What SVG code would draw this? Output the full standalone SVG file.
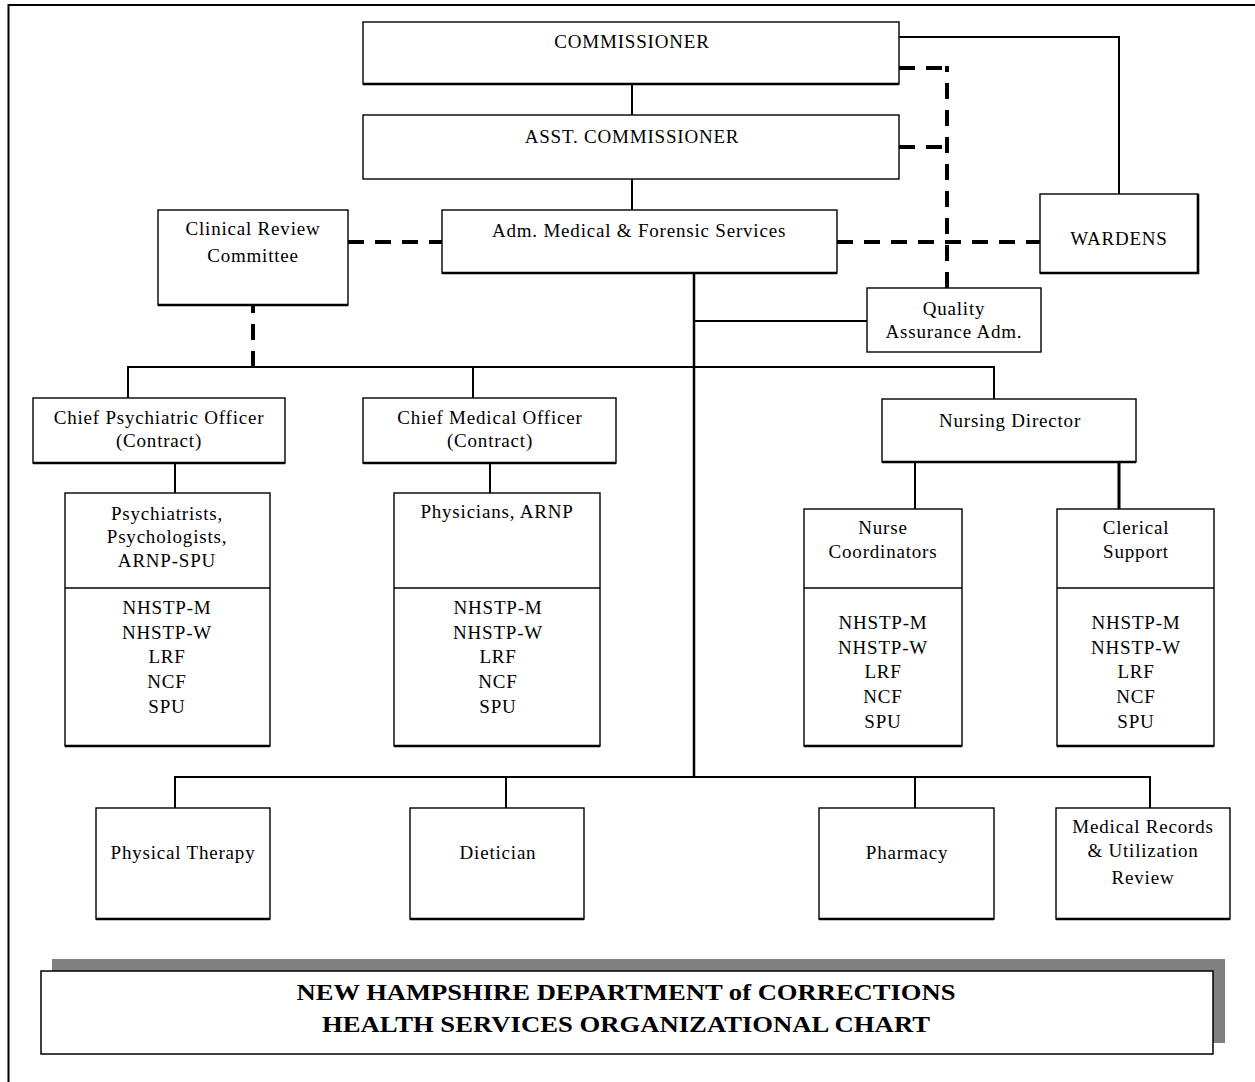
<svg xmlns="http://www.w3.org/2000/svg" width="1255" height="1082" viewBox="0 0 1255 1082">
<style>
.bx{fill:#fff;stroke:#000;stroke-width:1.4}
.sh{stroke:#000;stroke-width:2.6;fill:none}
.ln{stroke:#000;stroke-width:2;fill:none}
.dl{stroke:#000;stroke-width:4;fill:none;stroke-dasharray:16 11}
.t{font-family:"Liberation Serif","Times New Roman",serif;font-size:19px;letter-spacing:0.8px;text-anchor:middle;fill:#000}
.tt{font-family:"Liberation Serif","Times New Roman",serif;font-size:23px;font-weight:bold;text-anchor:middle;fill:#000}
</style>
<rect x="0" y="0" width="1255" height="1082" fill="#fff"/>
<path d="M8.5 1082 V5 H1255" stroke="#000" stroke-width="2" fill="none"/>

<g id="connectors">
<path class="ln" d="M632 84 V115 M632 179 V210"/>
<path class="ln" d="M899 37 H1119 V194"/>
<path class="dl" d="M899 68 H945"/>
<path class="dl" d="M947 288 V66"/>
<path class="dl" d="M899 147 H945"/>
<path class="dl" d="M348 242 H442"/>
<path class="dl" d="M837 242 H1040"/>
<path class="dl" d="M253 367 V305"/>
<path class="ln" d="M694 273 V777" style="stroke-width:2.5"/>
<path class="ln" d="M694 321 H867"/>
<path class="ln" d="M128 398 V367 H994 V399 M473 367 V398"/>
<path class="ln" d="M175 463 V493 M490 463 V493"/>
<path class="ln" d="M915 462 V509"/>
<path class="ln" d="M1119 462 V509" style="stroke-width:3"/>
<path class="ln" d="M175 808 V777 H1150 V808 M506 777 V808 M915 777 V808"/>
</g>

<g id="commissioner">
<rect class="bx" x="363" y="22" width="536" height="62"/>
<path class="sh" d="M363 84 H899"/>
<text class="t" x="632" y="48">COMMISSIONER</text>
</g>
<g id="asst-commissioner">
<rect class="bx" x="363" y="115" width="536" height="64"/>
<text class="t" x="632" y="143">ASST. COMMISSIONER</text>
</g>
<g id="adm-medical">
<rect class="bx" x="442" y="210" width="395" height="63"/>
<path class="sh" d="M442 273 H837"/>
<text class="t" x="639" y="237">Adm. Medical &amp; Forensic Services</text>
</g>
<g id="clinical-review">
<rect class="bx" x="158" y="210" width="190" height="95"/>
<path class="sh" d="M158 305 H348"/>
<text class="t" x="253" y="235">Clinical Review</text>
<text class="t" x="253" y="262">Committee</text>
</g>
<g id="wardens">
<rect class="bx" x="1040" y="194" width="158" height="79"/>
<path class="sh" d="M1040 273 H1198 V194"/>
<text class="t" x="1119" y="245">WARDENS</text>
</g>
<g id="quality-assurance">
<rect class="bx" x="867" y="288" width="174" height="64"/>
<text class="t" x="954" y="315">Quality</text>
<text class="t" x="954" y="338">Assurance Adm.</text>
</g>

<g id="chief-psychiatric">
<rect class="bx" x="33" y="398" width="252" height="65"/>
<path class="sh" d="M33 463 H285"/>
<text class="t" x="159" y="424">Chief Psychiatric Officer</text>
<text class="t" x="159" y="447">(Contract)</text>
</g>
<g id="chief-medical">
<rect class="bx" x="363" y="398" width="253" height="65"/>
<path class="sh" d="M363 463 H616"/>
<text class="t" x="490" y="424">Chief Medical Officer</text>
<text class="t" x="490" y="447">(Contract)</text>
</g>
<g id="nursing-director">
<rect class="bx" x="882" y="399" width="254" height="63"/>
<path class="sh" d="M882 462 H1136"/>
<text class="t" x="1010" y="427">Nursing Director</text>
</g>

<g id="psychiatrists">
<rect class="bx" x="65" y="493" width="205" height="253"/>
<path class="bx" d="M65 588 H270"/>
<path class="sh" d="M65 746 H270"/>
<text class="t" x="167" y="520">Psychiatrists,</text>
<text class="t" x="167" y="543">Psychologists,</text>
<text class="t" x="167" y="567">ARNP-SPU</text>
<text class="t" x="167" y="614">NHSTP-M</text>
<text class="t" x="167" y="639">NHSTP-W</text>
<text class="t" x="167" y="663">LRF</text>
<text class="t" x="167" y="688">NCF</text>
<text class="t" x="167" y="713">SPU</text>
</g>
<g id="physicians">
<rect class="bx" x="394" y="493" width="206" height="253"/>
<path class="bx" d="M394 588 H600"/>
<path class="sh" d="M394 746 H600"/>
<text class="t" x="497" y="518">Physicians, ARNP</text>
<text class="t" x="498" y="614">NHSTP-M</text>
<text class="t" x="498" y="639">NHSTP-W</text>
<text class="t" x="498" y="663">LRF</text>
<text class="t" x="498" y="688">NCF</text>
<text class="t" x="498" y="713">SPU</text>
</g>
<g id="nurse-coordinators">
<rect class="bx" x="804" y="509" width="158" height="237"/>
<path class="bx" d="M804 588 H962"/>
<path class="sh" d="M804 746 H962"/>
<text class="t" x="883" y="534">Nurse</text>
<text class="t" x="883" y="558">Coordinators</text>
<text class="t" x="883" y="629">NHSTP-M</text>
<text class="t" x="883" y="654">NHSTP-W</text>
<text class="t" x="883" y="678">LRF</text>
<text class="t" x="883" y="703">NCF</text>
<text class="t" x="883" y="728">SPU</text>
</g>
<g id="clerical-support">
<rect class="bx" x="1057" y="509" width="157" height="237"/>
<path class="bx" d="M1057 588 H1214"/>
<path class="sh" d="M1057 746 H1214"/>
<text class="t" x="1136" y="534">Clerical</text>
<text class="t" x="1136" y="558">Support</text>
<text class="t" x="1136" y="629">NHSTP-M</text>
<text class="t" x="1136" y="654">NHSTP-W</text>
<text class="t" x="1136" y="678">LRF</text>
<text class="t" x="1136" y="703">NCF</text>
<text class="t" x="1136" y="728">SPU</text>
</g>

<g id="physical-therapy">
<rect class="bx" x="96" y="808" width="174" height="111"/>
<path class="sh" d="M96 919 H270"/>
<text class="t" x="183" y="859">Physical Therapy</text>
</g>
<g id="dietician">
<rect class="bx" x="410" y="808" width="174" height="111"/>
<path class="sh" d="M410 919 H584"/>
<text class="t" x="498" y="859">Dietician</text>
</g>
<g id="pharmacy">
<rect class="bx" x="819" y="808" width="175" height="111"/>
<path class="sh" d="M819 919 H994"/>
<text class="t" x="907" y="859">Pharmacy</text>
</g>
<g id="medical-records">
<rect class="bx" x="1056" y="808" width="174" height="111"/>
<path class="sh" d="M1056 919 H1230"/>
<text class="t" x="1143" y="833">Medical Records</text>
<text class="t" x="1143" y="857">&amp; Utilization</text>
<text class="t" x="1143" y="884">Review</text>
</g>

<g id="title">
<rect x="52" y="959" width="1173" height="84" fill="#808080"/>
<rect x="41" y="971" width="1172" height="83" fill="#fff" stroke="#000" stroke-width="1.5"/>
<text class="tt" x="626" y="1000" textLength="659" lengthAdjust="spacingAndGlyphs">NEW HAMPSHIRE DEPARTMENT of CORRECTIONS</text>
<text class="tt" x="626" y="1032" textLength="608" lengthAdjust="spacingAndGlyphs">HEALTH SERVICES ORGANIZATIONAL CHART</text>
</g>
</svg>
